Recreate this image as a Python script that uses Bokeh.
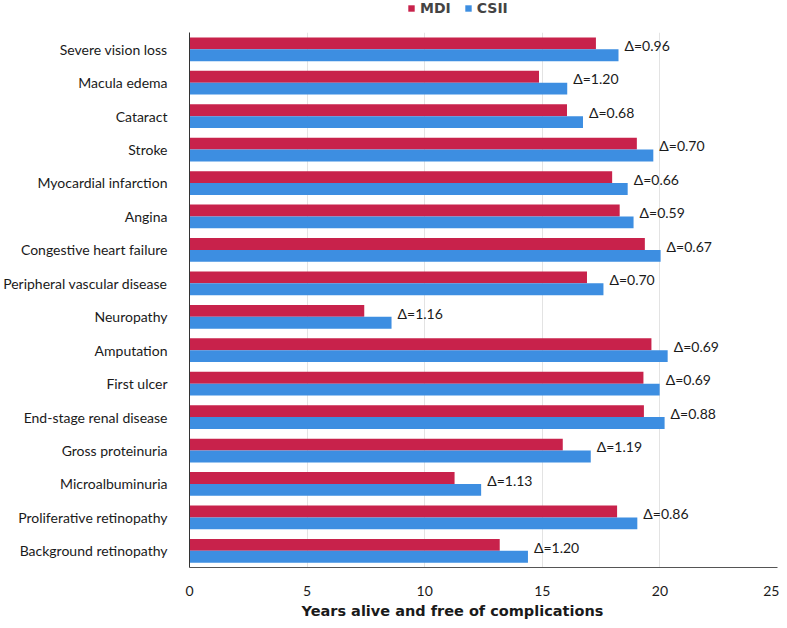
from bokeh.plotting import figure
from bokeh.layouts import column
from bokeh.models import FactorRange, Legend, LegendItem, ColumnDataSource, Title, Range1d
from bokeh.transform import dodge
from bokeh.embed import file_html
from bokeh.resources import INLINE
from bokeh.core.properties import value

# Categories listed top to bottom as in the chart
categories = [
    "Severe vision loss",
    "Macula edema",
    "Cataract",
    "Stroke",
    "Myocardial infarction",
    "Angina",
    "Congestive heart failure",
    "Peripheral vascular disease",
    "Neuropathy",
    "Amputation",
    "First ulcer",
    "End-stage renal disease",
    "Gross proteinuria",
    "Microalbuminuria",
    "Proliferative retinopathy",
    "Background retinopathy",
]
mdi = [17.28, 14.86, 16.05, 19.02, 17.97, 18.29, 19.36, 16.90, 7.43, 19.64, 19.30, 19.32, 15.87, 11.27, 18.18, 13.19]
csii = [18.24, 16.06, 16.73, 19.72, 18.63, 18.88, 20.03, 17.60, 8.59, 20.33, 19.99, 20.20, 17.06, 12.40, 19.04, 14.39]
deltas = ["0.96", "1.20", "0.68", "0.70", "0.66", "0.59", "0.67", "0.70", "1.16", "0.69", "0.69", "0.88", "1.19", "1.13", "0.86", "1.20"]
x_ticks = [0, 5, 10, 15, 20, 25]
series_names = ["MDI", "CSII"]

RED = "#C8224B"
BLUE = "#3D8EE1"
FONT = "Lato"
BOLD_FONT = "DejaVu Sans"

src = ColumnDataSource(dict(
    cat=categories,
    mdi=mdi,
    csii=csii,
    label=["\u0394=" + d for d in deltas],
))

# ---- legend strip above the chart (zero-width swatch renderers) ----
lg = figure(width=779, height=20, output_backend="svg", toolbar_location=None,
            x_axis_type=None, y_axis_type=None,
            min_border_left=0, min_border_right=0, min_border_top=0, min_border_bottom=0)
lg.outline_line_color = None
lg.xgrid.grid_line_color = None
lg.ygrid.grid_line_color = None
swatch = ColumnDataSource(dict(y=[0], left=[0], right=[0]))
lr1 = lg.hbar(y="y", left="left", right="right", height=1, source=swatch, fill_color=RED, line_color=None)
lr2 = lg.hbar(y="y", left="left", right="right", height=1, source=swatch, fill_color=BLUE, line_color=None)
legend = Legend(
    items=[LegendItem(label=series_names[0], renderers=[lr1]),
           LegendItem(label=series_names[1], renderers=[lr2])],
    orientation="horizontal", location=(218, 4),
    glyph_width=8, glyph_height=8, label_height=14,
    label_text_font=BOLD_FONT, label_text_font_style="bold", label_text_font_size="14px",
    label_standoff=5, spacing=13, padding=0, margin=0,
    border_line_color=None, background_fill_alpha=0,
)
lg.add_layout(legend)

# ---- main chart ----
p = figure(
    width=779, height=600,
    y_range=FactorRange(factors=list(reversed(categories))),
    x_range=Range1d(0, 25),
    output_backend="svg", toolbar_location=None,
    min_border_left=185, min_border_right=2, min_border_top=12, min_border_bottom=51,
)

p.hbar(y=dodge("cat", 0.175, range=p.y_range), left=0, right="mdi", height=0.355,
       source=src, fill_color=RED, line_color=None)
p.hbar(y=dodge("cat", -0.18, range=p.y_range), left=0, right="csii", height=0.355,
       source=src, fill_color=BLUE, line_color=None)

p.text(x="csii", y=dodge("cat", 0.11, range=p.y_range), text="label", source=src,
       x_offset=6, text_baseline="middle", text_align="left",
       text_font=value(FONT), text_font_size="14px", text_color="#1a1a1a")

# axes
p.xaxis.ticker = x_ticks
p.xaxis.major_tick_line_color = None
p.xaxis.minor_tick_line_color = None
p.xaxis.major_label_text_font = FONT
p.xaxis.major_label_text_font_size = "14px"
p.xaxis.major_label_text_color = "#1a1a1a"
p.xaxis.major_label_standoff = 12
p.xaxis.axis_line_color = "#555555"

p.yaxis.major_tick_line_color = None
p.yaxis.minor_tick_line_color = None
p.yaxis.major_label_text_font = FONT
p.yaxis.major_label_text_font_size = "14px"
p.yaxis.major_label_text_color = "#1a1a1a"
p.yaxis.major_label_standoff = 16
p.yaxis.axis_line_color = "#333333"

p.ygrid.grid_line_color = None
p.xgrid.grid_line_color = "#E3E3E3"
p.outline_line_color = None

title = Title(text="Years alive and free of complications", align="left", offset=112,
              text_font=BOLD_FONT, text_font_style="bold", text_font_size="14.5px",
              text_color="#1a1a1a", standoff=4)
p.add_layout(title, "below")

layout = column(lg, p, spacing=0)
open("out.html", "w").write(file_html(layout, INLINE))
